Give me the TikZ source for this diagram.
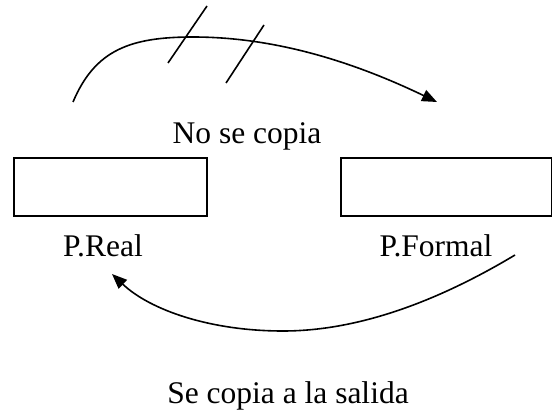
\documentclass[tikz,border=0pt]{standalone}
\usepackage{fontspec}
\setmainfont{Liberation Serif}
\usepackage{tikz}
\usetikzlibrary{arrows.meta}

\begin{document}
\begin{tikzpicture}[x=1pt, y=-1pt,
    box/.style={draw, line width=1.6pt, minimum height=58pt, inner sep=0pt},
    lbl/.style={anchor=base, inner sep=0pt, font=\fontsize{31.5}{36}\selectfont},
    arrow/.style={-{Triangle[length=15pt,width=12pt]}, line width=1.6pt},
  ]
    \useasboundingbox (0,0) rectangle (552,412);

    \node[box, minimum width=193pt] (real) at (110.5,187) {};
    \node[box, minimum width=211pt] (formal) at (446.5,187) {};

    \node[lbl] (nocopia) at (247,143) {No se copia};
    \node[lbl] (lblreal) at (103,256) {P.Real};
    \node[lbl] (lblformal) at (436,256) {P.Formal};
    \node[lbl] (salida) at (288,403) {Se copia a la salida};

    \coordinate (ida) at (73,102);
    \coordinate (idafin) at (437,102);
    \coordinate (vuelta) at (515,255);
    \coordinate (vueltafin) at (112,274);

    % paso por valor: no vuelve
    \draw[arrow] (ida) .. controls (95,50) and (130,37) .. (193,37)
                 .. controls (280,37) and (360,65) .. (idafin);
    \draw[line width=1.6pt] (168,63) -- (207,6);
    \draw[line width=1.6pt] (226,83) -- (264,25);

    % copia de salida
    \draw[arrow] (vuelta) .. controls (440,300) and (360,331) .. (283,331)
                 .. controls (210,331) and (150,310) .. (vueltafin);
  \end{tikzpicture}
\end{document}
